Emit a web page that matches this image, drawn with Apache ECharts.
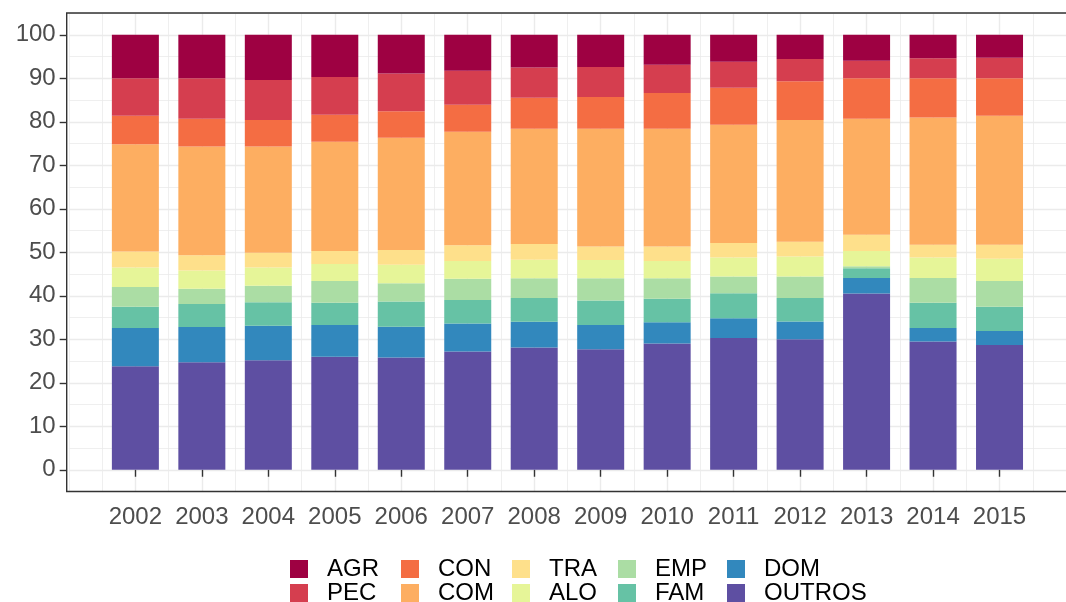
<!DOCTYPE html>
<html>
<head>
<meta charset="utf-8">
<script src="https://cdn.jsdelivr.net/npm/echarts@6/dist/echarts.min.js"></script>
<style>
  html, body { margin: 0; padding: 0; background: #fff; }
  #chart { width: 1066px; height: 602px; }
</style>
</head>
<body>
<div id="chart"></div>
<script>
// anos e parcelas (%), de baixo para cima na pilha
const years = [2002, 2003, 2004, 2005, 2006, 2007, 2008, 2009, 2010, 2011, 2012, 2013, 2014, 2015];
const OUTROS = [23.8, 24.7, 25.2, 26.0, 25.8, 27.2, 28.1, 27.7, 29.0, 30.3, 30.0, 40.5, 29.5, 28.7];
const DOM = [8.8, 8.1, 7.9, 7.3, 7.1, 6.4, 5.9, 5.6, 4.9, 4.5, 4.1, 3.6, 3.1, 3.2];
const FAM = [4.9, 5.3, 5.4, 5.1, 5.8, 5.4, 5.5, 5.6, 5.4, 5.8, 5.4, 2.2, 5.8, 5.6];
const EMP = [4.5, 3.5, 3.8, 5.0, 4.2, 4.9, 4.5, 5.1, 4.7, 3.8, 4.9, 0.5, 5.7, 5.9];
const ALO = [4.5, 4.2, 4.2, 3.9, 4.2, 4.1, 4.3, 4.2, 4.0, 4.4, 4.6, 3.5, 4.7, 5.1];
const TRA = [3.7, 3.5, 3.4, 3.0, 3.4, 3.6, 3.6, 3.1, 3.3, 3.3, 3.4, 3.7, 2.9, 3.2];
const COM = [24.6, 25.0, 24.4, 25.1, 25.8, 26.1, 26.5, 27.1, 27.1, 27.2, 28.0, 26.7, 29.3, 29.7];
const CON = [6.6, 6.4, 6.1, 6.2, 6.1, 6.2, 7.1, 7.3, 8.2, 8.5, 8.9, 9.3, 9.0, 8.6];
const PEC = [8.6, 9.3, 9.2, 8.7, 8.7, 7.8, 7.0, 6.9, 6.5, 6.0, 5.1, 4.0, 4.6, 4.7];
const AGR = [10.0, 10.0, 10.4, 9.7, 8.9, 8.3, 7.5, 7.4, 6.9, 6.2, 5.6, 6.0, 5.4, 5.3];

const yTicks = [0, 10, 20, 30, 40, 50, 60, 70, 80, 90, 100];

// ordem da pilha (base -> topo)
const stackNames = ["OUTROS", "DOM", "FAM", "EMP", "ALO", "TRA", "COM", "CON", "PEC", "AGR"];
const stackValues = [OUTROS, DOM, FAM, EMP, ALO, TRA, COM, CON, PEC, AGR];
const colors = {
  AGR: "#9E0142", PEC: "#D53E4F", CON: "#F46D43", COM: "#FDAE61", TRA: "#FEE08B",
  ALO: "#E6F598", EMP: "#ABDDA4", FAM: "#66C2A5", DOM: "#3288BD", OUTROS: "#5E4FA2"
};

// legenda em 2 linhas, preenchida por coluna (como no ggplot)
const legendRows = [
  ["AGR", "CON", "TRA", "EMP", "DOM"],
  ["PEC", "COM", "ALO", "FAM", "OUTROS"]
];
const legendColX = [290, 401, 512, 618, 727];
const legendRowY = [557, 581];

const font = "Liberation Sans, Arial, sans-serif";
const gridCol = "#ebebeb";

// eixo x com um ano vazio em cada ponta (expansão do painel)
const firstYear = years[0] - 1;
const lastYear = years[years.length - 1] + 1;
const xCats = [String(firstYear)].concat(years.map(String), [String(lastYear)]);
const isEnd = idx => idx === 0 || idx === xCats.length - 1;

const series = stackNames.map((name, i) => ({
  name: name,
  type: "bar",
  stack: "total",
  barWidth: 47,
  itemStyle: { color: colors[name] },
  data: ["-"].concat(stackValues[i], ["-"])
}));

const legends = [];
legendRows.forEach((row, r) => {
  row.forEach((name, c) => {
    legends.push({
      data: [name],
      left: legendColX[c],
      top: legendRowY[r],
      padding: 0,
      itemWidth: 18,
      itemHeight: 18,
      icon: "rect",
      selectedMode: false,
      textStyle: { fontFamily: font, fontSize: 24, color: "#000", padding: [0, 0, 0, 14] }
    });
  });
});

const chart = echarts.init(document.getElementById("chart"), null, { renderer: "canvas" });
chart.setOption({
  animation: false,
  textStyle: { fontFamily: font },
  grid: { left: 68.9, right: -9.4, top: 13, bottom: 110.5, containLabel: false },
  legend: legends,
  xAxis: [
    {
      type: "category",
      data: xCats,
      boundaryGap: false,
      axisLine: { show: false },
      axisTick: {
        show: true, length: 7,
        interval: idx => !isEnd(idx),
        lineStyle: { color: "#333", width: 1.4 }
      },
      axisLabel: {
        interval: idx => !isEnd(idx),
        margin: 14,
        fontSize: 24,
        color: "#4d4d4d",
        fontFamily: font
      },
      splitLine: { show: true, lineStyle: { color: gridCol, width: 1.4 } }
    },
    {
      // linhas secundárias entre os anos
      type: "value",
      min: firstYear,
      max: lastYear,
      interval: 0.5,
      axisLine: { show: false },
      axisTick: { show: false },
      axisLabel: { show: false },
      splitLine: { show: true, lineStyle: { color: gridCol, width: 0.8 } }
    }
  ],
  yAxis: [
    {
      type: "value",
      min: -5,
      max: 105,
      interval: 5,
      offset: 2.2,
      axisLine: { show: false },
      axisTick: {
        show: true, length: 7, customValues: yTicks,
        lineStyle: { color: "#333", width: 1.4 }
      },
      axisLabel: {
        customValues: yTicks,
        margin: 11,
        fontSize: 24,
        color: "#4d4d4d",
        fontFamily: font,
        formatter: v => (v % 10 === 0 && v >= 0 && v <= 100 ? String(v) : "")
      },
      splitLine: { show: true, lineStyle: { color: gridCol, width: 1.4 } }
    },
    {
      // linhas secundárias a cada 5
      type: "value",
      min: -5,
      max: 105,
      interval: 5,
      axisLine: { show: false },
      axisTick: { show: false },
      axisLabel: { show: false },
      splitLine: { show: true, lineStyle: { color: gridCol, width: 0.8 } }
    }
  ],
  // borda do painel (theme_bw)
  graphic: [{
    type: "rect",
    z: 100,
    silent: true,
    shape: { x: 66.7, y: 13, width: 1100, height: 478.5 },
    style: { fill: null, stroke: "#333", lineWidth: 1.4 }
  }],
  series: series
});
</script>
</body>
</html>
